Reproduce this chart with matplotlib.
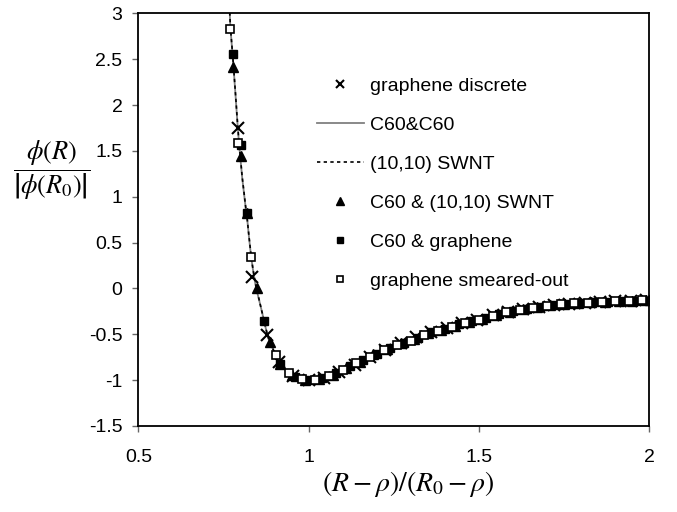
"""
Universal potential curve, reduced units
"""
import numpy as np
import matplotlib
matplotlib.use('Agg')
import matplotlib.pyplot as plt

plt.rcParams['font.family'] = ['Liberation Sans', 'DejaVu Sans']
plt.rcParams['mathtext.fontset'] = 'stix'

### curves
line_x = [0.766, 0.770, 0.775, 0.780, 0.785, 0.790, 0.795, 0.800, 0.805, 0.810,
          0.815, 0.820, 0.825, 0.830, 0.835, 0.840, 0.845, 0.850, 0.860, 0.870,
          0.880, 0.890, 0.900, 0.910, 0.920, 0.940, 0.960, 0.980, 1.000, 1.020,
          1.050, 1.080, 1.120, 1.160, 1.200, 1.240, 1.280, 1.320, 1.360, 1.400,
          1.450, 1.500, 1.550, 1.600, 1.650, 1.700, 1.750, 1.800, 1.850, 1.900,
          1.950, 2.000]
c60c60_y = [3.20, 2.85, 2.62, 2.38, 2.12, 1.85, 1.60, 1.40, 1.20, 1.04,
            0.88, 0.74, 0.55, 0.38, 0.24, 0.12, 0.02, -0.06, -0.21, -0.37,
            -0.53, -0.62, -0.70, -0.78, -0.84, -0.92, -0.965, -0.99, -1.00, -0.995,
            -0.97, -0.92, -0.85, -0.78, -0.71, -0.65, -0.59, -0.54, -0.48, -0.44,
            -0.38, -0.34, -0.29, -0.25, -0.215, -0.19, -0.17, -0.16, -0.15, -0.14,
            -0.13, -0.13]
swnt_y = [3.22, 2.86, 2.63, 2.39, 2.13, 1.86, 1.61, 1.41, 1.21, 1.05,
          0.89, 0.74, 0.56, 0.39, 0.25, 0.13, 0.03, -0.05, -0.21, -0.37,
          -0.52, -0.62, -0.70, -0.78, -0.84, -0.92, -0.965, -0.99, -1.00, -0.995,
          -0.97, -0.92, -0.85, -0.78, -0.71, -0.65, -0.59, -0.535, -0.48, -0.44,
          -0.38, -0.335, -0.29, -0.25, -0.215, -0.19, -0.17, -0.16, -0.15, -0.14,
          -0.13, -0.13]

### markers
gd_x = [0.7915, 0.8326, 0.8767, 0.913, 0.955, 1.00, 1.045, 1.09, 1.135, 1.18,
        1.225, 1.27, 1.315, 1.36, 1.405, 1.45, 1.495, 1.54, 1.585, 1.63,
        1.675, 1.72, 1.765, 1.81, 1.855, 1.90, 1.945, 1.99]
gd_y = [1.75, 0.12, -0.51, -0.80, -0.95, -1.00, -0.975, -0.91, -0.83, -0.745,
        -0.67, -0.60, -0.53, -0.475, -0.43, -0.38, -0.34, -0.295, -0.26, -0.225,
        -0.20, -0.18, -0.165, -0.155, -0.148, -0.14, -0.135, -0.13]

tri_x = [0.779, 0.800, 0.818, 0.847, 0.886, 0.916, 0.95, 0.99, 1.03, 1.07,
         1.11, 1.15, 1.19, 1.23, 1.27, 1.31, 1.35, 1.39, 1.43, 1.47,
         1.51, 1.55, 1.59, 1.63, 1.67, 1.71, 1.75, 1.79, 1.83, 1.87,
         1.91, 1.95, 1.99]
tri_y = [2.42, 1.44, 0.82, 0.00, -0.58, -0.82, -0.94, -0.995, -0.99, -0.94,
         -0.87, -0.80, -0.72, -0.66, -0.60, -0.55, -0.49, -0.45, -0.41, -0.37,
         -0.33, -0.29, -0.255, -0.225, -0.20, -0.185, -0.17, -0.16, -0.152, -0.145,
         -0.14, -0.135, -0.13]

sq_x = [0.779, 0.800, 0.818, 0.869, 0.916, 0.96, 1.00, 1.04, 1.08, 1.12,
        1.16, 1.20, 1.24, 1.28, 1.32, 1.36, 1.40, 1.44, 1.48, 1.52,
        1.56, 1.60, 1.64, 1.68, 1.72, 1.76, 1.80, 1.84, 1.88, 1.92,
        1.96, 2.00]
sq_y = [2.56, 1.56, 0.82, -0.35, -0.82, -0.965, -1.00, -0.98, -0.92, -0.85,
        -0.78, -0.71, -0.65, -0.59, -0.54, -0.48, -0.44, -0.39, -0.355, -0.32,
        -0.28, -0.25, -0.22, -0.20, -0.18, -0.168, -0.16, -0.152, -0.145, -0.14,
        -0.135, -0.135]

osq_x = [0.769, 0.793, 0.8306, 0.904, 0.943, 0.98, 1.02, 1.06, 1.10, 1.14,
         1.18, 1.22, 1.26, 1.30, 1.34, 1.38, 1.42, 1.46, 1.50, 1.54,
         1.58, 1.62, 1.66, 1.70, 1.74, 1.78, 1.82, 1.86, 1.90, 1.94,
         1.98]
osq_y = [2.83, 1.59, 0.345, -0.73, -0.92, -0.99, -0.995, -0.96, -0.89, -0.815,
         -0.745, -0.67, -0.62, -0.57, -0.51, -0.46, -0.42, -0.375, -0.34, -0.30,
         -0.26, -0.23, -0.21, -0.19, -0.17, -0.16, -0.155, -0.148, -0.14, -0.135,
         -0.13]

labels = ['graphene discrete', 'C60&C60', '(10,10) SWNT',
          'C60 & (10,10) SWNT', 'C60 & graphene', 'graphene smeared-out']
xticks = [0.5, 1, 1.5, 2]
yticks = [-1.5, -1, -0.5, 0, 0.5, 1, 1.5, 2, 2.5, 3]

fig = plt.figure(figsize=(6.77, 5.12), dpi=100)
ax = fig.add_axes([0.2044, 0.168, 0.7546, 0.806])

h_line, = ax.plot(line_x, c60c60_y, '-', color='0.5', lw=1.3)
h_dot, = ax.plot(line_x, swnt_y, color='k', lw=1.2, dashes=(2, 2))
h_x, = ax.plot(gd_x, gd_y, 'x', color='k', ms=8, mew=1.5, ls='none')
h_tri, = ax.plot(tri_x, tri_y, '^', color='k', ms=6.5, ls='none')
h_sq, = ax.plot(sq_x, sq_y, 's', color='k', ms=5.5, ls='none')
h_osq, = ax.plot(osq_x, osq_y, 's', mfc='white', mec='k', mew=1.2, ms=6, ls='none')

ax.set_xlim(0.5, 2)
ax.set_ylim(-1.5, 3)
ax.set_xticks(xticks)
ax.set_xticklabels(['0.5', '1', '1.5', '2'])
ax.set_yticks(yticks)
ax.set_yticklabels(['-1.5', '-1', '-0.5', '0', '0.5', '1', '1.5', '2', '2.5', '3'])
ax.tick_params(axis='both', direction='out', length=4.5, width=1, labelsize=14,
               color='0.4')
ax.tick_params(axis='x', pad=12)
ax.tick_params(axis='y', pad=7)
for sp in ax.spines.values():
    sp.set_linewidth(1.3)

leg = ax.legend([h_x, h_line, h_dot, h_tri, h_sq, h_osq], labels,
                loc='upper left', bbox_to_anchor=(0.468, 0.849),
                bbox_transform=fig.transFigure, frameon=False, fontsize=14,
                borderpad=0, borderaxespad=0, handlelength=2.4,
                handletextpad=0.35, labelspacing=1.1, markerscale=0.8)

fig.text(408/677, 1-484/512, r'$(R-\rho)/(R_0-\rho)$', fontsize=20,
         ha='center', va='center')
fig.text(52/677, 1-170/512, r'$\dfrac{\phi(R)}{\left|\phi(R_0)\right|}$',
         fontsize=19, ha='center', va='center')

fig.savefig('out.png', dpi=100)
